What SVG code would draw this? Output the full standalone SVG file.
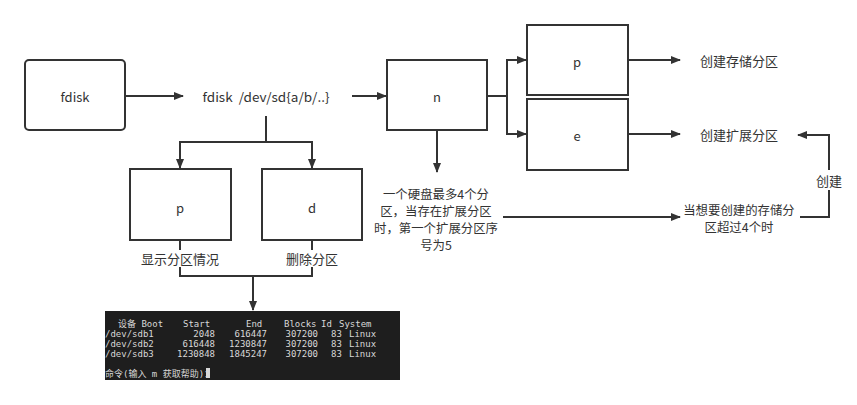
<svg xmlns="http://www.w3.org/2000/svg" width="857" height="405" viewBox="0 0 857 405">
<style>
.box{fill:#fff;stroke:#333;stroke-width:2}
.ln{fill:none;stroke:#333;stroke-width:2}
.t{font-family:"Noto Sans CJK SC","Liberation Sans",sans-serif;font-size:13px;fill:#333;text-anchor:middle;dominant-baseline:central}
.s{font-size:12.4px}
.m{font-family:"DejaVu Sans Mono","Noto Sans CJK SC",monospace;font-size:9px;fill:#d8d8d8}
.e{text-anchor:end}
</style>
<defs>
<marker id="a" markerWidth="10" markerHeight="8" refX="9" refY="4" orient="auto" markerUnits="userSpaceOnUse">
<path d="M0,0 L10,4 L0,8 Z" fill="#333"/>
</marker>
</defs>
<rect width="857" height="405" fill="#fff"/>
<g id="connectors">
<path class="ln" d="M125,96 H183" marker-end="url(#a)"/>
<path class="ln" d="M352,96 H386" marker-end="url(#a)"/>
<path class="ln" d="M487,96 H507 V60 H526" marker-end="url(#a)"/>
<path class="ln" d="M507,96 V134 H526" marker-end="url(#a)"/>
<path class="ln" d="M628,60 H680" marker-end="url(#a)"/>
<path class="ln" d="M628,134 H680" marker-end="url(#a)"/>
<path class="ln" d="M437,130 V172" marker-end="url(#a)"/>
<path class="ln" d="M266,116 V142 H180 V168" marker-end="url(#a)"/>
<path class="ln" d="M266,142 H312 V168" marker-end="url(#a)"/>
<path class="ln" d="M180,240 V276 H312 V240"/>
<path class="ln" d="M253,276 V310" marker-end="url(#a)"/>
<path class="ln" d="M503,217 H680" marker-end="url(#a)"/>
<path class="ln" d="M800,217 H829 V135 H798" marker-end="url(#a)"/>
<rect x="813" y="170" width="32" height="20" fill="#fff"/>
<text class="t" x="829" y="180">创建</text>
<rect x="140" y="250" width="80" height="17" fill="#fff"/>
<text class="t" x="180" y="258">显示分区情况</text>
<rect x="285" y="250" width="54" height="17" fill="#fff"/>
<text class="t" x="312" y="258">删除分区</text>
</g>
<g id="fdisk"><rect class="box" x="25" y="60" width="100" height="70" rx="4"/><text class="t" x="75" y="96">fdisk</text></g>
<g id="fdisk-dev"><text class="t" x="266" y="96" xml:space="preserve" textLength="127" lengthAdjust="spacingAndGlyphs">fdisk  /dev/sd{a/b/..}</text></g>
<g id="n"><rect class="box" x="387" y="60" width="100" height="70"/><text class="t" x="437" y="96">n</text></g>
<g id="np"><rect class="box" x="527" y="25" width="101" height="70"/><text class="t" x="577" y="61">p</text></g>
<g id="ne"><rect class="box" x="527" y="99" width="101" height="71"/><text class="t" x="577" y="135">e</text></g>
<g id="create-primary"><text class="t" x="739" y="60">创建存储分区</text></g>
<g id="create-extended"><text class="t" x="739" y="134">创建扩展分区</text></g>
<g id="note-n"><text class="t s" x="436" y="194">一个硬盘最多4个分</text><text class="t s" x="436" y="211">区，当存在扩展分区</text><text class="t s" x="436" y="228">时，第一个扩展分区序</text><text class="t s" x="436" y="245">号为5</text></g>
<g id="note-over4"><text class="t s" x="739" y="210">当想要创建的存储分</text><text class="t s" x="739" y="227">区超过4个时</text></g>
<g id="p"><rect class="box" x="130" y="169" width="101" height="71"/><text class="t" x="180" y="207">p</text></g>
<g id="d"><rect class="box" x="262" y="169" width="100" height="71"/><text class="t" x="312" y="207">d</text></g>
<g id="terminal">
<rect x="105" y="311" width="295" height="69" fill="#1e1e1e"/>
<text class="m" x="118" y="327">设备 Boot</text>
<text class="m" x="183" y="327">Start</text>
<text class="m" x="246" y="327">End</text>
<text class="m" x="284" y="327">Blocks</text>
<text class="m" x="321" y="327">Id</text>
<text class="m" x="339" y="327">System</text>
<text class="m" x="105" y="337">/dev/sdb1</text><text class="m e" x="215" y="337">2048</text><text class="m e" x="267" y="337">616447</text><text class="m e" x="318" y="337">307200</text><text class="m" x="331" y="337">83</text><text class="m" x="349" y="337">Linux</text>
<text class="m" x="105" y="347">/dev/sdb2</text><text class="m e" x="215" y="347">616448</text><text class="m e" x="267" y="347">1230847</text><text class="m e" x="318" y="347">307200</text><text class="m" x="331" y="347">83</text><text class="m" x="349" y="347">Linux</text>
<text class="m" x="105" y="357">/dev/sdb3</text><text class="m e" x="215" y="357">1230848</text><text class="m e" x="267" y="357">1845247</text><text class="m e" x="318" y="357">307200</text><text class="m" x="331" y="357">83</text><text class="m" x="349" y="357">Linux</text>
<text class="m" x="105" y="377">命令(输入 m 获取帮助)：</text>
<rect x="206" y="368" width="4" height="10" fill="#d8d8d8"/>
</g>
</svg>
